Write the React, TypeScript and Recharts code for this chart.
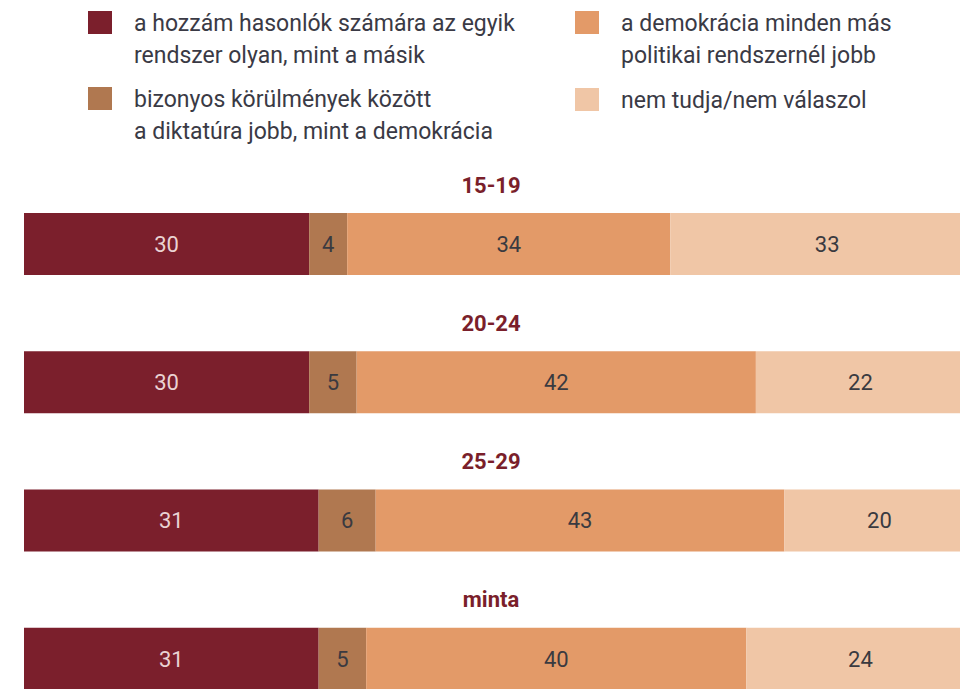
import React from "react";
import { BarChart, Bar, XAxis, YAxis, LabelList } from "recharts";

const groups = ["15-19", "20-24", "25-29", "minta"];
const sameForMe = [30, 30, 31, 31];
const dictatorship = [4, 5, 6, 5];
const democracy = [34, 42, 43, 40];
const dontKnow = [33, 22, 20, 24];

const seriesKeys = ["same", "dict", "demo", "dk"];
const seriesNames = [
  "a hozzám hasonlók számára az egyik rendszer olyan, mint a másik",
  "bizonyos körülmények között a diktatúra jobb, mint a demokrácia",
  "a demokrácia minden más politikai rendszernél jobb",
  "nem tudja/nem válaszol",
];
// legend text as printed, broken into lines
const legendLines = [
  ["a hozzám hasonlók számára az egyik", "rendszer olyan, mint a másik"],
  ["bizonyos körülmények között", "a diktatúra jobb, mint a demokrácia"],
  ["a demokrácia minden más", "politikai rendszernél jobb"],
  ["nem tudja/nem válaszol"],
];
const seriesColors = ["#7b1f2c", "#b07850", "#e39a68", "#f0c6a6"];
const labelColors = ["#ead3d3", "#3a3a40", "#3a3a40", "#3a3a40"];

const data = groups.map((g, i) => ({
  group: g,
  same: sameForMe[i],
  dict: dictatorship[i],
  demo: democracy[i],
  dk: dontKnow[i],
}));

const font = "Roboto, 'DejaVu Sans', sans-serif";

// group title drawn above each bar
function GroupTitle(props: any) {
  const { y, value } = props;
  return (
    <text x={491} y={y - 28} textAnchor="middle" dominantBaseline="central"
      fill="#7a1f2b" fontWeight="bold" fontSize={22} fontFamily={font}>
      {value}
    </text>
  );
}

function LegendItem({ idx, left, top }: { idx: number; left: number; top: number }) {
  return (
    <div style={{ position: "absolute", left, top, display: "flex" }}>
      <div style={{ width: 24, height: 23, background: seriesColors[idx], marginTop: 3 }} />
      <div style={{ marginLeft: 22, fontSize: 23, lineHeight: "32px", color: "#3a3a45", fontFamily: font }}>
        {legendLines[idx].map((l, k) => <div key={k}>{l}</div>)}
      </div>
    </div>
  );
}

export default function App() {
  return (
    <div style={{ position: "fixed", left: 0, top: 0, width: 960, height: 689, overflow: "hidden", background: "#fff" }}>
      <LegendItem idx={0} left={88} top={8} />
      <LegendItem idx={2} left={575} top={8} />
      <LegendItem idx={1} left={88} top={84} />
      <LegendItem idx={3} left={575} top={85} />
      <div style={{ position: "absolute", left: 0, top: 0 }}>
        <BarChart width={1000} height={740} data={data} layout="vertical"
          margin={{ top: 175, right: 16, left: 24, bottom: 12 }}>
          <XAxis type="number" domain={[0, 101]} hide />
          <YAxis type="category" dataKey="group" hide />
          {seriesKeys.map((k, i) => (
            <Bar key={k} dataKey={k} name={seriesNames[i]} stackId="a" fill={seriesColors[i]}
              barSize={62} isAnimationActive={false}>
              <LabelList dataKey={k} position="center" fill={labelColors[i]} fontSize={22} fontFamily={font} />
              {i === 0 && <LabelList dataKey="group" content={<GroupTitle />} />}
            </Bar>
          ))}
        </BarChart>
      </div>
    </div>
  );
}
